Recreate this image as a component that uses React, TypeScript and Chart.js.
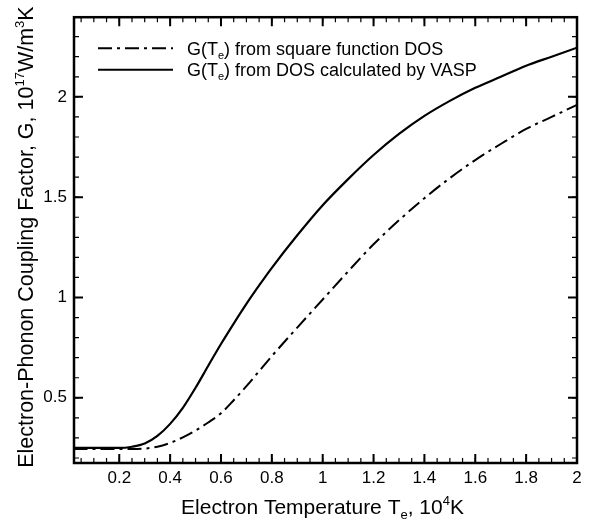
import React, { useEffect, useRef } from "react";
import { Chart, registerables } from "chart.js";

Chart.register(...registerables);

// Electron temperature, 10^4 K
const temperatures = [0.02, 0.1, 0.2, 0.25, 0.3, 0.35, 0.4, 0.45, 0.5, 0.55, 0.6, 0.65, 0.7, 0.75, 0.8, 0.9, 1.0, 1.1, 1.2, 1.3, 1.4, 1.5, 1.6, 1.7, 1.8, 1.9, 2.0];
// G(Te) from square function DOS, 10^17 W/m^3K
const gSquareDos = [0.245, 0.245, 0.245, 0.245, 0.247, 0.256, 0.275, 0.303, 0.337, 0.377, 0.423, 0.488, 0.558, 0.633, 0.708, 0.85, 0.99, 1.13, 1.265, 1.385, 1.495, 1.595, 1.685, 1.765, 1.84, 1.9, 1.96];
// G(Te) from DOS calculated by VASP
const gVaspDos = [0.25, 0.25, 0.25, 0.256, 0.272, 0.31, 0.37, 0.45, 0.55, 0.66, 0.768, 0.87, 0.968, 1.06, 1.148, 1.31, 1.46, 1.59, 1.71, 1.815, 1.905, 1.98, 2.045, 2.1, 2.155, 2.2, 2.245];

const xTickValues = [0.2, 0.4, 0.6, 0.8, 1, 1.2, 1.4, 1.6, 1.8, 2];
const yTickValues = [0.5, 1, 1.5, 2];
const xMinorStep = 0.05;
const yMinorStep = 0.1;

const xMin = 0.022;
const xMax = 2;
const yMin = 0.175;
const yMax = 2.397;

type Seg = { t: string; k?: "sub" | "sup" };

const legendItems: { label: Seg[]; dash: number[] }[] = [
  { label: [{ t: "G(T" }, { t: "e", k: "sub" }, { t: ") from square function DOS" }], dash: [14, 5, 3, 5] },
  { label: [{ t: "G(T" }, { t: "e", k: "sub" }, { t: ") from DOS calculated by VASP" }], dash: [] },
];

const xTitle: Seg[] = [{ t: "Electron Temperature T" }, { t: "e", k: "sub" }, { t: ", 10" }, { t: "4", k: "sup" }, { t: "K" }];
const yTitle: Seg[] = [
  { t: "Electron-Phonon Coupling Factor, G, 10" },
  { t: "17", k: "sup" },
  { t: "W/m" },
  { t: "3", k: "sup" },
  { t: "K" },
];

const FONT = "'Liberation Sans', Arial, sans-serif";

function segWidth(ctx: CanvasRenderingContext2D, segs: Seg[], size: number) {
  let w = 0;
  for (const s of segs) {
    ctx.font = `${s.k ? Math.round(size * 0.6) : size}px ${FONT}`;
    w += ctx.measureText(s.t).width;
  }
  return w;
}

function drawRich(ctx: CanvasRenderingContext2D, segs: Seg[], x: number, y: number, size: number, align: "left" | "center") {
  const total = segWidth(ctx, segs, size);
  let cx = align === "center" ? x - total / 2 : x;
  ctx.textAlign = "left";
  ctx.textBaseline = "alphabetic";
  for (const s of segs) {
    const sz = s.k ? Math.round(size * 0.6) : size;
    ctx.font = `${sz}px ${FONT}`;
    const dy = s.k === "sub" ? size * 0.22 : s.k === "sup" ? -size * 0.42 : 0;
    ctx.fillText(s.t, cx, y + dy);
    cx += ctx.measureText(s.t).width;
  }
}

const framePlugin = {
  id: "frameAndText",
  afterDatasetsDraw(chart: any) {
    const { ctx, chartArea: a, scales } = chart;
    const x = scales.x;
    const y = scales.y;
    ctx.save();
    ctx.strokeStyle = "#000";
    ctx.fillStyle = "#000";
    ctx.lineCap = "butt";
    ctx.setLineDash([]);

    const xTick = (v: number, len: number, w: number) => {
      const px = x.getPixelForValue(v);
      ctx.lineWidth = w;
      ctx.beginPath();
      ctx.moveTo(px, a.bottom);
      ctx.lineTo(px, a.bottom - len);
      ctx.moveTo(px, a.top);
      ctx.lineTo(px, a.top + len);
      ctx.stroke();
    };
    const yTick = (v: number, len: number, w: number) => {
      const py = y.getPixelForValue(v);
      ctx.lineWidth = w;
      ctx.beginPath();
      ctx.moveTo(a.left, py);
      ctx.lineTo(a.left + len, py);
      ctx.moveTo(a.right, py);
      ctx.lineTo(a.right - len, py);
      ctx.stroke();
    };
    for (let i = 1; i * xMinorStep < xMax - 1e-9; i++) {
      const v = i * xMinorStep;
      if (v < xMin) continue;
      xTick(v, 5, 1.2);
    }
    for (let i = 1; i * yMinorStep < yMax; i++) {
      const v = i * yMinorStep;
      if (v < yMin) continue;
      yTick(v, 5, 1.2);
    }
    xTickValues.forEach((v) => xTick(v, 9, 2));
    yTickValues.forEach((v) => yTick(v, 9, 2));

    ctx.lineWidth = 2.5;
    ctx.strokeRect(a.left, a.top, a.right - a.left, a.bottom - a.top);

    // legend
    legendItems.forEach((item, i) => {
      const ly = a.top + 31 + i * 21.5;
      ctx.lineWidth = 2;
      ctx.setLineDash(item.dash);
      ctx.beginPath();
      ctx.moveTo(a.left + 24, ly);
      ctx.lineTo(a.left + 99, ly);
      ctx.stroke();
      ctx.setLineDash([]);
      drawRich(ctx, item.label, a.left + 113, ly + 6.5, 18, "left");
    });

    // axis titles
    drawRich(ctx, xTitle, (a.left + a.right) / 2 - 3, 514, 21, "center");
    ctx.save();
    ctx.translate(33, (a.top + a.bottom) / 2 - 3);
    ctx.rotate(-Math.PI / 2);
    drawRich(ctx, yTitle, 0, 0, 21.5, "center");
    ctx.restore();

    ctx.restore();
  },
};

export default function App() {
  const canvasRef = useRef<HTMLCanvasElement | null>(null);

  useEffect(() => {
    if (!canvasRef.current) return;
    const chart = new Chart(canvasRef.current, {
      type: "line",
      data: {
        datasets: [
          {
            label: "G(Te) from square function DOS",
            data: temperatures.map((t, i) => ({ x: t, y: gSquareDos[i] })),
            borderColor: "#000",
            borderWidth: 2,
            borderDash: [14, 5, 3, 5],
            pointRadius: 0,
            cubicInterpolationMode: "monotone",
            fill: false,
          },
          {
            label: "G(Te) from DOS calculated by VASP",
            data: temperatures.map((t, i) => ({ x: t, y: gVaspDos[i] })),
            borderColor: "#000",
            borderWidth: 2.2,
            pointRadius: 0,
            cubicInterpolationMode: "monotone",
            fill: false,
          },
        ],
      },
      options: {
        responsive: false,
        animation: false,
        layout: { padding: { left: 0, right: 15, top: 4, bottom: 0 } },
        plugins: {
          legend: { display: false },
          tooltip: { enabled: false },
          title: { display: false },
        },
        scales: {
          x: {
            type: "linear",
            min: xMin,
            max: xMax,
            border: { display: false },
            grid: { display: false, drawTicks: false },
            afterBuildTicks: (s: any) => {
              s.ticks = xTickValues.map((v) => ({ value: v }));
            },
            afterFit: (s: any) => {
              s.height = 62;
            },
            ticks: {
              color: "#000",
              font: { family: FONT, size: 17 },
              padding: 5,
              maxRotation: 0,
              autoSkip: false,
              callback: (v: any) => String(v),
            },
          },
          y: {
            type: "linear",
            min: yMin,
            max: yMax,
            border: { display: false },
            grid: { display: false, drawTicks: false },
            afterBuildTicks: (s: any) => {
              s.ticks = yTickValues.map((v) => ({ value: v }));
            },
            afterFit: (s: any) => {
              s.width = 74;
            },
            ticks: {
              color: "#000",
              font: { family: FONT, size: 17 },
              padding: 7,
              autoSkip: false,
              callback: (v: any) => String(v),
            },
          },
        },
      },
      plugins: [framePlugin],
    } as any);
    return () => chart.destroy();
  }, []);

  return (
    <div style={{ position: "fixed", left: 0, top: 0, width: 592, height: 525, background: "#fff" }}>
      <canvas ref={canvasRef} width={592} height={525} style={{ width: 592, height: 525, display: "block" }} />
    </div>
  );
}
